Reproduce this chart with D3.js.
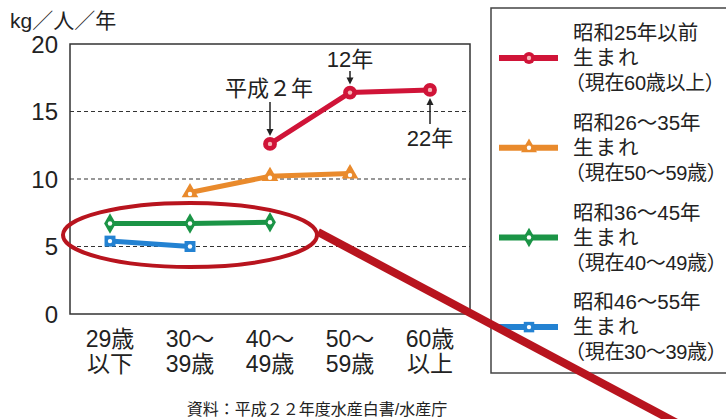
<!DOCTYPE html>
<html>
<head>
<meta charset="utf-8">
<script src="https://cdn.jsdelivr.net/npm/d3@7"></script>
<style>
  body { margin: 0; background: #fff; }
  text { font-family: "Liberation Sans", "Noto Sans CJK JP", sans-serif; fill: #222; }
</style>
</head>
<body>
<script>
// age groups on the x axis (two lines each)
var ageLabels = [["29歳", "以下"], ["30～", "39歳"], ["40～", "49歳"], ["50～", "59歳"], ["60歳", "以上"]];
var yTicks = [0, 5, 10, 15, 20];

// consumption kg/person/year, null = no survey point
var s1950 = [null, null, 12.6, 16.4, 16.6];   // 昭和25年以前
var s1951 = [null, 9.0, 10.2, 10.4, null];    // 昭和26～35年
var s1961 = [6.7, 6.7, 6.8, null, null];      // 昭和36～45年
var s1971 = [5.4, 5.0, null, null, null];     // 昭和46～55年

var seriesNames = [
  ["昭和25年以前", "生まれ", "（現在60歳以上）"],
  ["昭和26～35年", "生まれ", "（現在50～59歳）"],
  ["昭和36～45年", "生まれ", "（現在40～49歳）"],
  ["昭和46～55年", "生まれ", "（現在30～39歳）"]
];
var seriesColors = ["#d01438", "#e98a2c", "#1b9446", "#2382d2"];
var seriesShapes = [d3.symbolCircle, d3.symbolTriangle, d3.symbolDiamond, d3.symbolSquare];
var seriesValues = [s1950, s1951, s1961, s1971];

var width = 726, height = 419;
var margin = {left: 70, right: 256, top: 44, bottom: 105};

var svg = d3.select("body").append("svg")
    .attr("width", width)
    .attr("height", height);

var x = d3.scalePoint()
    .domain(d3.range(ageLabels.length))
    .range([margin.left, width - margin.right])
    .padding(0.5);

var y = d3.scaleLinear()
    .domain([0, 20])
    .range([height - margin.bottom, margin.top]);

// dashed grid
svg.selectAll(".grid")
    .data([5, 10, 15])
  .enter().append("line")
    .attr("x1", margin.left).attr("x2", width - margin.right)
    .attr("y1", d => y(d)).attr("y2", d => y(d))
    .attr("stroke", "#333").attr("stroke-width", 1.2)
    .attr("stroke-dasharray", "4,3");

// frame
svg.append("rect")
    .attr("x", margin.left).attr("y", margin.top)
    .attr("width", width - margin.right - margin.left)
    .attr("height", y(0) - y(20))
    .attr("fill", "none").attr("stroke", "#333").attr("stroke-width", 1.5);

// y tick labels
svg.selectAll(".ytick")
    .data(yTicks)
  .enter().append("text")
    .attr("x", 58).attr("y", d => y(d))
    .attr("dy", "0.36em")
    .attr("text-anchor", "end")
    .style("font-size", "24px")
    .text(d => d);

svg.append("text")
    .attr("x", 10).attr("y", 28)
    .style("font-size", "21px")
    .text("kg／人／年");

// x labels
var xl = svg.selectAll(".xlab")
    .data(ageLabels)
  .enter().append("text")
    .attr("text-anchor", "middle")
    .style("font-size", "23px");
xl.append("tspan").attr("x", (d, i) => x(i)).attr("y", 347).text(d => d[0]);
xl.append("tspan").attr("x", (d, i) => x(i)).attr("y", 372).text(d => d[1]);

svg.append("text")
    .attr("x", 317).attr("y", 415)
    .attr("text-anchor", "middle")
    .style("font-size", "16px")
    .text("資料：平成２２年度水産白書/水産庁");

// series
var line = d3.line()
    .defined(d => d != null)
    .x((d, i) => x(i))
    .y(d => y(d));

seriesValues.forEach(function(vals, k) {
  svg.append("path")
      .datum(vals)
      .attr("d", line)
      .attr("fill", "none")
      .attr("stroke", seriesColors[k])
      .attr("stroke-width", 5);

  var pts = vals.map((v, i) => ({v: v, i: i})).filter(d => d.v != null);
  svg.selectAll(".m" + k)
      .data(pts)
    .enter().append("path")
      .attr("transform", d => "translate(" + x(d.i) + "," + y(d.v) + ")")
      .attr("d", d3.symbol().type(seriesShapes[k]).size(k == 0 ? 150 : 120))
      .attr("fill", seriesColors[k]);
  svg.selectAll(".c" + k)
      .data(pts)
    .enter().append("circle")
      .attr("cx", d => x(d.i)).attr("cy", d => y(d.v) + (k == 1 ? 1.5 : 0))
      .attr("r", 2.2)
      .attr("fill", k == 0 ? "#f7b6b8" : "#fff");
});

// year annotations
function arrow(x0, y0, y1) {
  var dir = y1 > y0 ? 1 : -1;
  svg.append("line")
      .attr("x1", x0).attr("x2", x0)
      .attr("y1", y0).attr("y2", y1 - dir * 5)
      .attr("stroke", "#222").attr("stroke-width", 1.5);
  svg.append("path")
      .attr("d", "M" + (x0 - 3.5) + "," + (y1 - dir * 7) + "L" + x0 + "," + y1 + "L" + (x0 + 3.5) + "," + (y1 - dir * 7) + "Z")
      .attr("fill", "#222");
}
svg.append("text").attr("x", 269).attr("y", 96).attr("text-anchor", "middle")
    .style("font-size", "22px").text("平成２年");
arrow(x(2), 102, y(s1950[2]) - 8);
svg.append("text").attr("x", x(3)).attr("y", 67).attr("text-anchor", "middle")
    .style("font-size", "22px").text("12年");
arrow(x(3), 71, y(s1950[3]) - 8);
svg.append("text").attr("x", x(4)).attr("y", 146).attr("text-anchor", "middle")
    .style("font-size", "22px").text("22年");
arrow(x(4), 124, y(s1950[4]) + 8);

// legend
svg.append("rect")
    .attr("x", 491).attr("y", 8)
    .attr("width", 240).attr("height", 365)
    .attr("fill", "none").attr("stroke", "#444").attr("stroke-width", 1.5);

seriesNames.forEach(function(names, k) {
  var top = 33 + k * 89.7;
  var g = svg.append("g");
  g.append("line")
      .attr("x1", 499).attr("x2", 558)
      .attr("y1", top + 25).attr("y2", top + 25)
      .attr("stroke", seriesColors[k]).attr("stroke-width", 6);
  g.append("path")
      .attr("transform", "translate(529," + (top + 25) + ")")
      .attr("d", d3.symbol().type(seriesShapes[k]).size(110))
      .attr("fill", seriesColors[k]);
  g.append("circle")
      .attr("cx", 529).attr("cy", top + 25).attr("r", 2.2)
      .attr("fill", k == 0 ? "#f7b6b8" : "#fff");
  names.forEach(function(t, j) {
    g.append("text")
        .attr("x", j == 2 ? 565 : 573)
        .attr("y", top + j * 25)
        .attr("dy", "0.36em")
        .attr("letter-spacing", j == 1 ? "2px" : j == 2 ? "-0.3px" : null)
        .style("font-size", j == 2 ? "20px" : "20.5px")
        .text(t);
  });
});

// red highlight ellipse and pointer line
svg.append("ellipse")
    .attr("cx", x(1)).attr("cy", 235)
    .attr("rx", 127).attr("ry", 32)
    .attr("fill", "none").attr("stroke", "#b8141e").attr("stroke-width", 4);
svg.append("line")
    .attr("x1", 318).attr("y1", 232)
    .attr("x2", 692).attr("y2", 431)
    .attr("stroke", "#b8141e").attr("stroke-width", 8);
</script>
</body>
</html>
